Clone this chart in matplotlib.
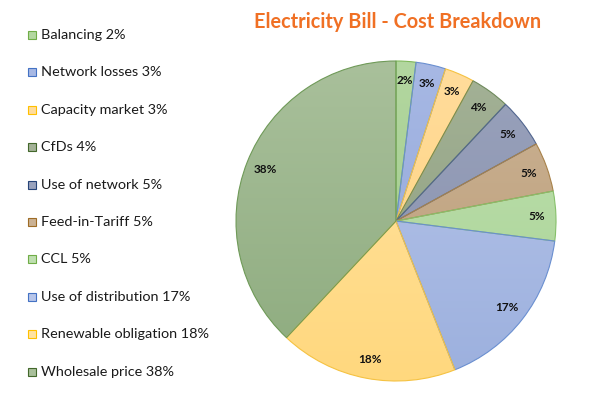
import matplotlib
matplotlib.use("Agg")
import matplotlib.pyplot as plt
import numpy as np
from matplotlib.colors import to_rgb

categories = ["Balancing", "Network losses", "Capacity market", "CfDs", "Use of network",
              "Feed-in-Tariff", "CCL", "Use of distribution", "Renewable obligation", "Wholesale price"]
values = [2, 3, 3, 4, 5, 5, 5, 17, 18, 38]
legend_labels = ["Balancing 2%", "Network losses 3%", "Capacity market 3%", "CfDs 4%",
                 "Use of network 5%", "Feed-in-Tariff 5%", "CCL 5%", "Use of distribution 17%",
                 "Renewable obligation 18%", "Wholesale price 38%"]
top_colors = ["#b3d7a0", "#a7b8e4", "#ffdc9c", "#a4b297", "#99a2bc", "#cbb294", "#bfdfb0",
              "#b8c6ea", "#ffe3a3", "#a9c09b"]
bot_colors = ["#9cc886", "#8fa5d8", "#ffd27a", "#8a9c7a", "#8890ac", "#bb9d77", "#a8d494",
              "#9cb0de", "#ffd87e", "#8dab7e"]
edge_colors = ["#70ad47", "#4472c4", "#ffc000", "#43682b", "#264478", "#9e6c25", "#70ad47",
               "#4472c4", "#ffc000", "#43682b"]
edge_light = ["#7fb85a", "#6a8fd0", "#f5c242", "#6f8a5c", "#52668f", "#a8824a", "#86c06a",
              "#6a8fd0", "#f5c242", "#6f9a58"]

W, H = 616, 393
fig = plt.figure(figsize=(W / 100, H / 100), dpi=100)
fig.patch.set_facecolor("white")

cx, cy, R = 396, 221, 160
ax = fig.add_axes([(cx - R) / W, (H - cy - R) / H, 2 * R / W, 2 * R / H])
wedges, texts = ax.pie(values, startangle=90, counterclock=False, radius=1.0,
                       wedgeprops=dict(linewidth=0.8),
                       labels=[f"{v}%" for v in values], labeldistance=0.88,
                       textprops=dict(fontsize=8.5, fontweight="bold", family="Lato",
                                      ha="center", va="center", color="#111111"))
ax.set_xlim(-1, 1)
ax.set_ylim(-1, 1)
ax.set_aspect("equal")

grad = np.linspace(0, 1, 256)[:, None]
for i, w in enumerate(wedges):
    t = np.array(to_rgb(top_colors[i]))
    b = np.array(to_rgb(bot_colors[i]))
    img = (t[None, None, :] * (1 - grad[:, :, None]) + b[None, None, :] * grad[:, :, None])
    img = np.repeat(img, 2, axis=1)
    w.set_facecolor("none")
    w.set_edgecolor(edge_light[i])
    im = ax.imshow(img, extent=[-1, 1, -1, 1], origin="upper", aspect="auto", zorder=0.5,
                   interpolation="bilinear")
    im.set_clip_path(w)
    w.set_zorder(1)
for t in texts:
    t.set_zorder(3)

fig.text(398 / W, 1 - 22 / H, "Electricity Bill - Cost Breakdown", color="#f07024",
         fontsize=14.3, fontweight="bold", family="Lato", ha="center", va="center")

y0, dy = 35, 37.4
for i, lab in enumerate(legend_labels):
    y = y0 + i * dy
    fig.patches.append(plt.Rectangle(((27.5) / W, 1 - (y + 4) / H), 8 / W, 8 / H,
                                     transform=fig.transFigure, facecolor=top_colors[i],
                                     edgecolor=edge_colors[i], linewidth=0.8))
    fig.text(41 / W, 1 - y / H, lab, fontsize=10.4, family="Lato", ha="left", va="center",
             color="#1a1a1a")

fig.savefig("out.png", dpi=100)
